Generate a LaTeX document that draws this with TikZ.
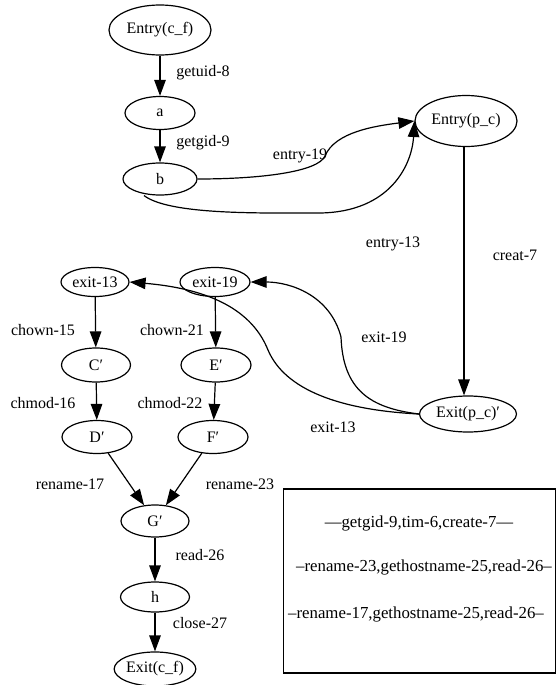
\documentclass[tikz,border=0pt]{standalone}
\usepackage{fontspec}
\setmainfont{Liberation Serif}
\usetikzlibrary{arrows.meta,shapes.geometric}
\begin{document}
\begin{tikzpicture}[x=1pt,y=-1pt,
  every node/.style={font=\fontsize{16}{19}\selectfont},
  st/.style={ellipse,draw,line width=1.2pt,inner sep=0pt},
  lb/.style={fill=white,inner sep=2pt},
  bt/.style={font=\fontsize{16.8}{19}\selectfont},
  ar/.style={line width=1.2pt,-{Triangle[length=16pt,width=11.5pt]}},
  ln/.style={line width=1.1pt}]
\useasboundingbox (0,0) rectangle (557,685);
% states
\node[st,minimum width=102pt,minimum height=50pt] (ecf) at (160,30) {Entry(c\_f)};
\node[st,minimum width=70pt,minimum height=33pt] (a) at (160,113) {a};
\node[st,minimum width=74pt,minimum height=32pt] (b) at (160,179) {b};
\node[st,minimum width=102pt,minimum height=51pt] (epc) at (466,121) {Entry(p\_c)};
\node[st,minimum width=97pt,minimum height=36pt] (xpc) at (468,414) {Exit(p\_c)′};
\node[st,minimum width=68pt,minimum height=29pt] (x13) at (95,282) {exit-13};
\node[st,minimum width=70pt,minimum height=29pt] (x19) at (215,282) {exit-19};
\node[st,minimum width=69pt,minimum height=34pt] (C) at (96,365) {C′};
\node[st,minimum width=70pt,minimum height=34pt] (E) at (216,365) {E′};
\node[st,minimum width=70pt,minimum height=33pt] (D) at (97,437) {D′};
\node[st,minimum width=70pt,minimum height=33pt] (F) at (213,437) {F′};
\node[st,minimum width=68pt,minimum height=32pt] (G) at (155,521) {G′};
\node[st,minimum width=69pt,minimum height=30pt] (h) at (155,597) {h};
\node[st,minimum width=72pt,minimum height=34pt] (xcf) at (155,669) {Exit(c\_f)};
% straight edges
\draw[ar] (ecf) -- (a);
\draw[ar] (a) -- (b);
\draw[ar] (epc.south -| 464,0) -- (xpc.north -| 464,0);
\draw[ar] (x13) -- (C);
\draw[ar] (C) -- (D);
\draw[ar] (x19) -- (E);
\draw[ar] (E) -- (F);
\draw[ar] (D) -- (G);
\draw[ar] (F) -- (G);
\draw[ar] (G) -- (h);
\draw[ar] (h) -- (xcf);
% curved edges
\draw[ar] (b.east) .. controls (260,179) and (318,172) .. (325,156)
  .. controls (335,132) and (375,126) .. (epc.west);
\draw[ar] (b.south) ++(-16,0) .. controls (170,215) and (260,213) .. (320,213)
  .. controls (390,212) and (412,165) .. (epc.west);
\draw[ar] (xpc.west) .. controls (370,408) and (343,390) .. (341,337)
  .. controls (330,295) and (290,282) .. (x19.east);
\draw[ar] (xpc.west) .. controls (340,410) and (285,390) .. (268,350)
  .. controls (250,305) and (200,288) .. (x13.east);
% labels
\node[lb] (l1) at (203,73) {getuid-8};
\node[lb] (l2) at (203,143) {getgid-9};
\node (l3) at (300,156) {entry-19};
\node[lb] (l4) at (393,244) {entry-13};
\node[lb] (l5) at (515,255) {creat-7};
\node[lb] (l6) at (43,330) {chown-15};
\node[lb] (l7) at (172,330) {chown-21};
\node[lb] (l8) at (43,403) {chmod-16};
\node[lb] (l9) at (170,403) {chmod-22};
\node[lb,minimum width=73pt,minimum height=20pt] (l10) at (384,337) {exit-19};
\node[lb,minimum width=74pt,minimum height=20pt] (l11) at (333,427) {exit-13};
\node[lb,minimum width=86pt] (l12) at (70,484) {rename-17};
\node[lb] (l13) at (240,484) {rename-23};
\node[lb] (l14) at (200,555) {read-26};
\node[lb] (l15) at (200,623) {close-27};
% box
\node[draw,line width=1.2pt,minimum width=272pt,minimum height=184pt,inner sep=0pt] (box) at (419.5,581) {};
\node[bt] (t1) at (419,523) {\textemdash getgid-9,tim-6,create-7\textemdash};
\node[bt] (t2) at (424,567) {\textendash rename-23,gethostname-25,read-26\textendash};
\node[bt] (t3) at (416,614) {\textendash rename-17,gethostname-25,read-26\textendash};
\end{tikzpicture}
\end{document}
